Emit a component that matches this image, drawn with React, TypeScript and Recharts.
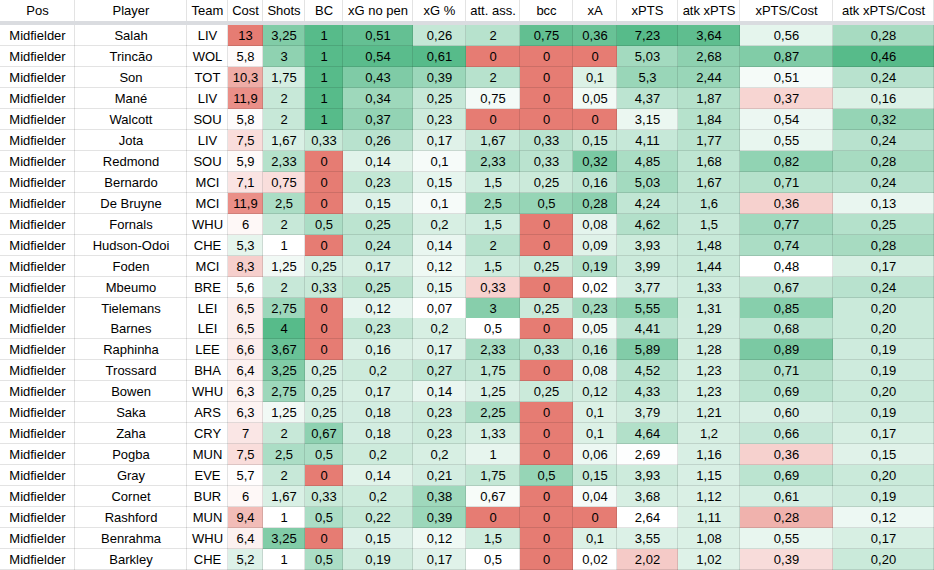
import React from 'react';
import { BarChart, Bar, XAxis, YAxis } from 'recharts';

// ---------- data ----------
const HEADERS = ['Pos', 'Player', 'Team', 'Cost', 'Shots', 'BC', 'xG no pen', 'xG %', 'att. ass.', 'bcc', 'xA', 'xPTS', 'atk xPTS', 'xPTS/Cost', 'atk xPTS/Cost'];

const POSITIONS = ['Midfielder', 'Midfielder', 'Midfielder', 'Midfielder', 'Midfielder', 'Midfielder', 'Midfielder', 'Midfielder', 'Midfielder', 'Midfielder', 'Midfielder', 'Midfielder', 'Midfielder', 'Midfielder', 'Midfielder', 'Midfielder', 'Midfielder', 'Midfielder', 'Midfielder', 'Midfielder', 'Midfielder', 'Midfielder', 'Midfielder', 'Midfielder', 'Midfielder', 'Midfielder'];
const PLAYERS = ['Salah', 'Trincão', 'Son', 'Mané', 'Walcott', 'Jota', 'Redmond', 'Bernardo', 'De Bruyne', 'Fornals', 'Hudson-Odoi', 'Foden', 'Mbeumo', 'Tielemans', 'Barnes', 'Raphinha', 'Trossard', 'Bowen', 'Saka', 'Zaha', 'Pogba', 'Gray', 'Cornet', 'Rashford', 'Benrahma', 'Barkley'];
const TEAMS = ['LIV', 'WOL', 'TOT', 'LIV', 'SOU', 'LIV', 'SOU', 'MCI', 'MCI', 'WHU', 'CHE', 'MCI', 'BRE', 'LEI', 'LEI', 'LEE', 'BHA', 'WHU', 'ARS', 'CRY', 'MUN', 'EVE', 'BUR', 'MUN', 'WHU', 'CHE'];
const COST = [13, 5.8, 10.3, 11.9, 5.8, 7.5, 5.9, 7.1, 11.9, 6, 5.3, 8.3, 5.6, 6.5, 6.5, 6.6, 6.4, 6.3, 6.3, 7, 7.5, 5.7, 6, 9.4, 6.4, 5.2];
const SHOTS = [3.25, 3, 1.75, 2, 2, 1.67, 2.33, 0.75, 2.5, 2, 1, 1.25, 2, 2.75, 4, 3.67, 3.25, 2.75, 1.25, 2, 2.5, 2, 1.67, 1, 3.25, 1];
const BC = [1, 1, 1, 1, 1, 0.33, 0, 0, 0, 0.5, 0, 0.25, 0.33, 0, 0, 0, 0.25, 0.25, 0.25, 0.67, 0.5, 0, 0.33, 0.5, 0, 0.5];
const XG_NO_PEN = [0.51, 0.54, 0.43, 0.34, 0.37, 0.26, 0.14, 0.23, 0.15, 0.25, 0.24, 0.17, 0.25, 0.12, 0.23, 0.16, 0.2, 0.17, 0.18, 0.18, 0.2, 0.14, 0.2, 0.22, 0.15, 0.19];
const XG_PCT = [0.26, 0.61, 0.39, 0.25, 0.23, 0.17, 0.1, 0.15, 0.1, 0.2, 0.14, 0.12, 0.15, 0.07, 0.2, 0.17, 0.27, 0.14, 0.23, 0.23, 0.2, 0.21, 0.38, 0.39, 0.12, 0.17];
const ATT_ASS = [2, 0, 2, 0.75, 0, 1.67, 2.33, 1.5, 2.5, 1.5, 2, 1.5, 0.33, 3, 0.5, 2.33, 1.75, 1.25, 2.25, 1.33, 1, 1.75, 0.67, 0, 1.5, 0.5];
const BCC = [0.75, 0, 0, 0, 0, 0.33, 0.33, 0.25, 0.5, 0, 0, 0.25, 0, 0.25, 0, 0.33, 0, 0.25, 0, 0, 0, 0.5, 0, 0, 0, 0];
const XA = [0.36, 0, 0.1, 0.05, 0, 0.15, 0.32, 0.16, 0.28, 0.08, 0.09, 0.19, 0.02, 0.23, 0.05, 0.16, 0.08, 0.12, 0.1, 0.1, 0.06, 0.15, 0.04, 0, 0.1, 0.02];
const XPTS = [7.23, 5.03, 5.3, 4.37, 3.15, 4.11, 4.85, 5.03, 4.24, 4.62, 3.93, 3.99, 3.77, 5.55, 4.41, 5.89, 4.52, 4.33, 3.79, 4.64, 2.69, 3.93, 3.68, 2.64, 3.55, 2.02];
const ATK_XPTS = [3.64, 2.68, 2.44, 1.87, 1.84, 1.77, 1.68, 1.67, 1.6, 1.5, 1.48, 1.44, 1.33, 1.31, 1.29, 1.28, 1.23, 1.23, 1.21, 1.2, 1.16, 1.15, 1.12, 1.11, 1.08, 1.02];
const XPTS_COST = [0.56, 0.87, 0.51, 0.37, 0.54, 0.55, 0.82, 0.71, 0.36, 0.77, 0.74, 0.48, 0.67, 0.85, 0.68, 0.89, 0.71, 0.69, 0.6, 0.66, 0.36, 0.69, 0.61, 0.28, 0.55, 0.39];
const ATK_XPTS_COST = [0.28, 0.46, 0.24, 0.16, 0.32, 0.24, 0.28, 0.24, 0.13, 0.25, 0.28, 0.17, 0.24, 0.2, 0.2, 0.19, 0.19, 0.2, 0.19, 0.17, 0.15, 0.2, 0.19, 0.12, 0.17, 0.2];

// ---------- layout / style ----------
const COL_WIDTHS = [75, 112, 41, 35, 42, 38, 70, 53, 54, 53, 44, 61, 62, 93, 101];
const TOTAL_W = 934;
const CHART_H = 570;
const HEADER_H = 21;
const DIVIDER_H = 4;
const FONT = '"Liberation Sans", Arial, sans-serif';
const GRID = 'rgba(0,0,0,0.11)';
const RED = [230, 124, 115];
const GREEN = [87, 187, 138];
const WHITE = [255, 255, 255];

type Scale = { r: number; w: number; g: number } | null;
// colour scale per column: r = value shown full red, w = white, g = full green
const COLUMNS: { values: (string | number)[]; fixed2?: boolean; scale: Scale }[] = [
  { values: POSITIONS, scale: null },
  { values: PLAYERS, scale: null },
  { values: TEAMS, scale: null },
  { values: COST, scale: { r: 13, w: 5.6, g: 3.6 } },
  { values: SHOTS, scale: { r: 0, w: 1, g: 4 } },
  { values: BC, scale: { r: 0, w: 0.0001, g: 1 } },
  { values: XG_NO_PEN, scale: { r: -1, w: 0.05, g: 0.55 } },
  { values: XG_PCT, scale: { r: -1, w: 0.07, g: 0.61 } },
  { values: ATT_ASS, scale: { r: 0, w: 0.5, g: 4 } },
  { values: BCC, scale: { r: 0, w: 0.0001, g: 0.8 } },
  { values: XA, scale: { r: 0, w: 0.02, g: 0.4 } },
  { values: XPTS, scale: { r: 1.1, w: 2.64, g: 7.0 } },
  { values: ATK_XPTS, scale: { r: -1, w: 0.35, g: 3.8 } },
  { values: XPTS_COST, fixed2: true, scale: { r: 0.14, w: 0.48, g: 1.0 } },
  { values: ATK_XPTS_COST, fixed2: true, scale: { r: -1, w: 0.08, g: 0.46 } },
];

const CENTERS: number[] = [];
{
  let acc = 0;
  COL_WIDTHS.forEach((w) => {
    CENTERS.push(acc + w / 2);
    acc += w;
  });
}

function mix(a: number[], b: number[], t: number) {
  const c = a.map((v, i) => Math.round(v + (b[i] - v) * t));
  return `rgb(${c[0]},${c[1]},${c[2]})`;
}
const clamp = (t: number) => Math.max(0, Math.min(1, t));

function cellColor(v: string | number, s: Scale) {
  if (!s || typeof v !== 'number') return '#ffffff';
  const dir = Math.sign(s.g - s.w);
  if ((v - s.w) * dir >= 0) return mix(WHITE, GREEN, clamp((v - s.w) / (s.g - s.w)));
  return mix(WHITE, RED, clamp((v - s.w) / (s.r - s.w)));
}

function fmt(v: string | number, fixed2?: boolean) {
  if (typeof v !== 'number') return v;
  return (fixed2 ? v.toFixed(2) : String(v)).replace('.', ',');
}

const rows = PLAYERS.map((p, i) => {
  const r: Record<string, any> = { player: p, idx: i };
  return r;
});

function makeShape(col: number) {
  return (props: any) => {
    const { x, y, width, height, index } = props;
    const x0 = Math.round(x);
    const x1 = Math.round(x + width);
    const y0 = Math.round(y);
    const y1 = Math.round(y + height);
    const spec = COLUMNS[col];
    const v = spec.values[index];
    return (
      <g>
        <rect x={x0} y={y0} width={x1 - x0} height={y1 - y0} fill={cellColor(v, spec.scale)} />
        <line x1={x1 - 0.5} x2={x1 - 0.5} y1={y0} y2={y1} stroke={GRID} strokeWidth={1} />
        <line x1={x0} x2={x1} y1={y1 - 0.5} y2={y1 - 0.5} stroke={GRID} strokeWidth={1} />
        <text
          x={(x0 + x1) / 2}
          y={(y0 + y1) / 2 + 4.5}
          textAnchor="middle"
          fontFamily={FONT}
          fontSize={13}
          fill="#000"
        >
          {fmt(v, spec.fixed2)}
        </text>
      </g>
    );
  };
}

const HeaderTick = (props: any) => {
  const { x, payload } = props;
  const col = CENTERS.findIndex((c) => Math.abs(c - payload.value) < 0.01);
  if (col < 0) return null;
  const w = COL_WIDTHS[col];
  const x0 = Math.round(x - w / 2);
  const x1 = Math.round(x + w / 2);
  return (
    <g>
      <rect x={x0} y={0} width={x1 - x0} height={HEADER_H} fill="#ffffff" />
      <line x1={x1 - 0.5} x2={x1 - 0.5} y1={0} y2={HEADER_H} stroke={GRID} />
      <rect x={x0} y={HEADER_H} width={x1 - x0} height={DIVIDER_H} fill="#dadce0" />
      <text x={x} y={HEADER_H / 2 + 4.5} textAnchor="middle" fontFamily={FONT} fontSize={13} fill="#000">
        {HEADERS[col]}
      </text>
    </g>
  );
};

export default function App() {
  return (
    <div style={{ position: 'absolute', left: 0, top: 0, background: '#fff' }}>
      <BarChart
        layout="vertical"
        width={TOTAL_W}
        height={CHART_H}
        data={rows}
        margin={{ top: 0, right: 0, bottom: 0, left: 0 }}
        barCategoryGap={0}
        barGap={0}
      >
        <XAxis
          type="number"
          orientation="top"
          domain={[0, TOTAL_W]}
          ticks={CENTERS}
          interval={0}
          height={HEADER_H + DIVIDER_H}
          axisLine={false}
          tickLine={false}
          tick={(p: any) => <HeaderTick {...p} />}
          allowDataOverflow
        />
        <YAxis type="category" dataKey="player" hide />
        {COLUMNS.map((c, i) => (
          <Bar
            key={i}
            stackId="table"
            dataKey={() => COL_WIDTHS[i]}
            isAnimationActive={false}
            shape={makeShape(i)}
          />
        ))}
      </BarChart>
    </div>
  );
}
